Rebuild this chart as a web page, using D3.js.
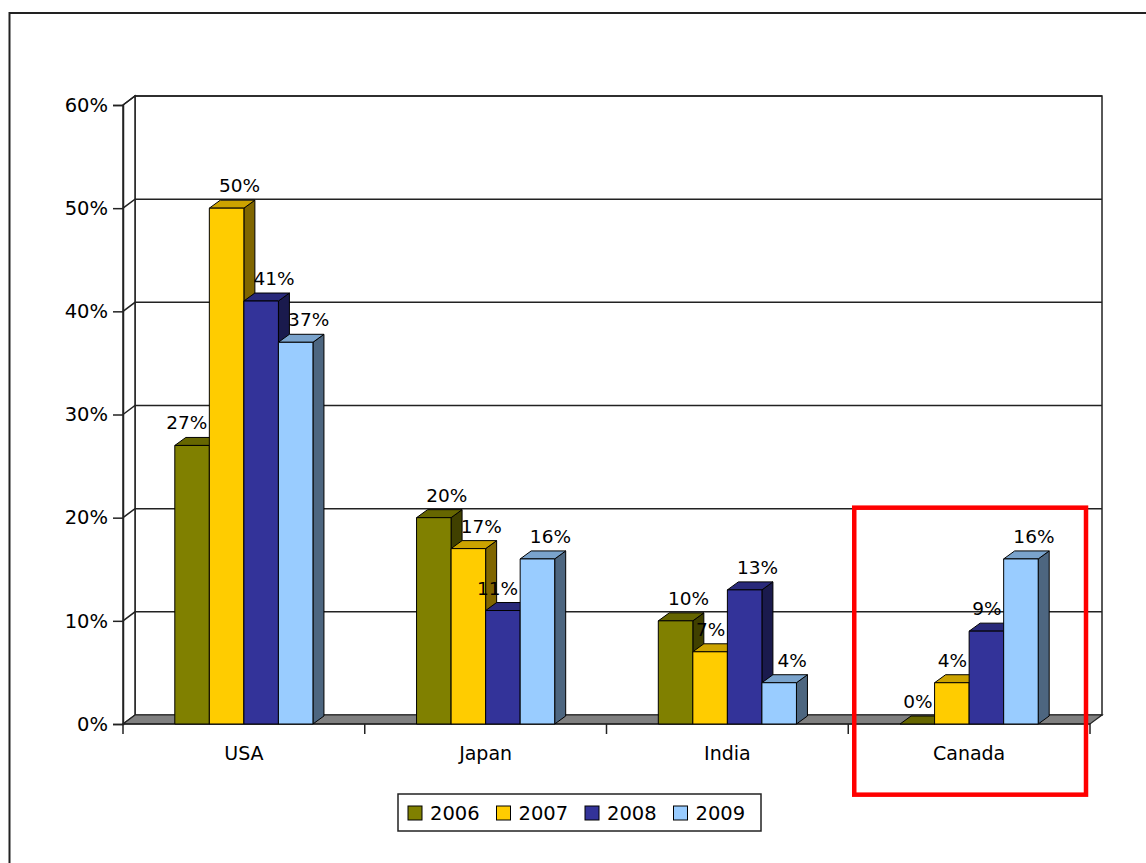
<!DOCTYPE html>
<html>
<head>
<meta charset="utf-8">
<script src="https://cdn.jsdelivr.net/npm/d3@7"></script>
<style>
  html, body { margin: 0; padding: 0; background: #fff; }
  svg { display: block; }
  text { font-family: "DejaVu Sans", Verdana, sans-serif; fill: #000; }
</style>
</head>
<body>
<svg id="chart" width="1146" height="863"></svg>
<script>
// ---- data ----
const categories = ["USA", "Japan", "India", "Canada"];
const years = ["2006", "2007", "2008", "2009"];
const values2006 = [27, 20, 10, 0];
const values2007 = [50, 17, 7, 4];
const values2008 = [41, 11, 13, 9];
const values2009 = [37, 16, 4, 16];
const yTickValues = [0, 10, 20, 30, 40, 50, 60];

const seriesValues = [values2006, values2007, values2008, values2009];
const seriesColors = ["#808000", "#FFCC00", "#333399", "#99CCFF"];

// ---- layout ----
const svg = d3.select("#chart");
const plot = { left: 123, right: 1090, bottom: 724, top: 105 };
const WALL_DX = 12, WALL_DY = 9;   // depth offset of the back wall
const BAR_DX = 11, BAR_DY = 8;     // depth of each bar

const x0 = d3.scaleBand().domain(categories).range([plot.left, plot.right]);
const x1 = d3.scaleBand().domain(years).range([0, x0.bandwidth()]).paddingOuter(1.5);
const y = d3.scaleLinear().domain([0, 60]).range([plot.bottom, plot.top]);

const shade = (c, k) => { const r = d3.rgb(c); return d3.rgb(r.r * k, r.g * k, r.b * k).formatHex(); };
const poly = pts => "M" + pts.map(p => p.join(",")).join("L") + "Z";

// outer chart frame
svg.append("rect").attr("x", 9.5).attr("y", 13).attr("width", 1300).attr("height", 1000)
  .attr("fill", "none").attr("stroke", "#222").attr("stroke-width", 2);

// back wall
const wallLeft = plot.left + WALL_DX, wallRight = plot.right + WALL_DX;
svg.append("rect")
  .attr("x", wallLeft).attr("y", plot.top - WALL_DY)
  .attr("width", wallRight - wallLeft).attr("height", plot.bottom - plot.top)
  .attr("fill", "#fff").attr("stroke", "#222").attr("stroke-width", 1.5);

// side wall edges
svg.append("path")
  .attr("d", poly([[plot.left, plot.bottom], [plot.left, plot.top], [wallLeft, plot.top - WALL_DY], [wallLeft, plot.bottom - WALL_DY]]))
  .attr("fill", "#fff").attr("stroke", "#222").attr("stroke-width", 1.5);

// gridlines: along the side wall and across the back wall
const grid = svg.append("g").attr("stroke", "#222").attr("stroke-width", 1.5).attr("fill", "none");
yTickValues.filter(v => v > 0).forEach(v => {
  grid.append("path").attr("d",
    `M${plot.left},${y(v)}L${wallLeft},${y(v) - WALL_DY}L${wallRight},${y(v) - WALL_DY}`);
});

// floor
svg.append("path")
  .attr("d", poly([[plot.left, plot.bottom], [plot.right, plot.bottom], [wallRight, plot.bottom - WALL_DY], [wallLeft, plot.bottom - WALL_DY]]))
  .attr("fill", "#808080").attr("stroke", "#222").attr("stroke-width", 1.2);

// value axis
const yAxis = svg.append("g").attr("transform", `translate(${plot.left},0)`)
  .call(d3.axisLeft(y).tickValues(yTickValues).tickSize(10).tickPadding(5).tickFormat(d => d + "%"));
yAxis.select(".domain").attr("stroke", "#222").attr("stroke-width", 1.5);
yAxis.selectAll(".tick line").attr("stroke", "#222").attr("stroke-width", 1.5);
yAxis.selectAll(".tick text").style("font-size", "19.5px").attr("fill", "#000")
  .style("font-family", "'DejaVu Sans', sans-serif");

// category axis
const xAxis = svg.append("g").attr("transform", `translate(0,${plot.bottom})`)
  .call(d3.axisBottom(x0).tickSize(0).tickPadding(0));
xAxis.select(".domain").remove();
xAxis.selectAll(".tick text").style("font-size", "19px").attr("fill", "#000")
  .style("font-family", "'DejaVu Sans', sans-serif").attr("y", 36).attr("dy", 0);
const catEdges = categories.map(c => x0(c)).concat([plot.right]);
svg.append("g").selectAll("line").data(catEdges).join("line")
  .attr("x1", d => d).attr("x2", d => d).attr("y1", plot.bottom).attr("y2", plot.bottom + 10)
  .attr("stroke", "#222").attr("stroke-width", 1.5);
svg.append("line").attr("x1", plot.left).attr("x2", plot.right).attr("y1", plot.bottom).attr("y2", plot.bottom)
  .attr("stroke", "#222").attr("stroke-width", 1.5);

// bars (drawn left to right so each covers its neighbour's side face)
const bars = svg.append("g");
const labels = svg.append("g").style("font-size", "18.5px");
const bw = x1.bandwidth();
categories.forEach((cat, ci) => {
  years.forEach((yr, si) => {
    const v = seriesValues[si][ci];
    const col = seriesColors[si];
    const xl = x0(cat) + x1(yr), xr = xl + bw, yt = y(v), yb = y(0);
    const g = bars.append("g").attr("stroke", "#000").attr("stroke-width", 1).attr("stroke-linejoin", "round");
    g.append("path").attr("d", poly([[xr, yb], [xr, yt], [xr + BAR_DX, yt - BAR_DY], [xr + BAR_DX, yb - BAR_DY]]))
      .attr("fill", shade(col, 0.5));
    g.append("path").attr("d", poly([[xl, yt], [xr, yt], [xr + BAR_DX, yt - BAR_DY], [xl + BAR_DX, yt - BAR_DY]]))
      .attr("fill", shade(col, 0.8));
    if (v > 0) g.append("rect").attr("x", xl).attr("y", yt).attr("width", bw).attr("height", yb - yt).attr("fill", col);
  });
});

// value labels, nudged left when they would run into a much taller neighbour
categories.forEach((cat, ci) => {
  years.forEach((yr, si) => {
    const v = seriesValues[si][ci];
    const xl = x0(cat) + x1(yr);
    const base = y(v) - 16;
    const t = labels.append("text").attr("text-anchor", "middle").text(v + "%");
    const w = t.node().getComputedTextLength();
    let cx = xl + bw / 2 + 13;
    if (si < years.length - 1) {
      const nv = seriesValues[si + 1][ci];
      const nl = x0(cat) + x1(years[si + 1]);
      if (cx + w / 2 > nl + 12 && base > y(nv) - BAR_DY) cx = nl - 2 - w / 2;
      else if (cx + w / 2 > nl && base > y(nv) - BAR_DY && v < 10 && nv - v > 3) cx = nl - 2 - w / 2;
    }
    t.attr("x", cx).attr("y", base);
  });
});

// legend
const legend = svg.append("g").attr("transform", "translate(398,794)");
legend.append("rect").attr("width", 363).attr("height", 37).attr("fill", "#fff")
  .attr("stroke", "#222").attr("stroke-width", 1.5);
const item = legend.selectAll("g.item").data(years).join("g").attr("class", "item")
  .attr("transform", (d, i) => `translate(${10 + i * 88.5},0)`);
item.append("rect").attr("y", 12).attr("width", 14).attr("height", 14)
  .attr("fill", (d, i) => seriesColors[i]).attr("stroke", "#000").attr("stroke-width", 1);
item.append("text").attr("x", 22).attr("y", 26).style("font-size", "19.5px").text(d => d);

// highlight box around Canada
const hx = x0("Canada");
svg.append("rect")
  .attr("x", hx + 6).attr("y", y(20) - 10)
  .attr("width", x0.bandwidth() - 10).attr("height", 287)
  .attr("fill", "none").attr("stroke", "#ff0000").attr("stroke-width", 4.5);
</script>
</body>
</html>
